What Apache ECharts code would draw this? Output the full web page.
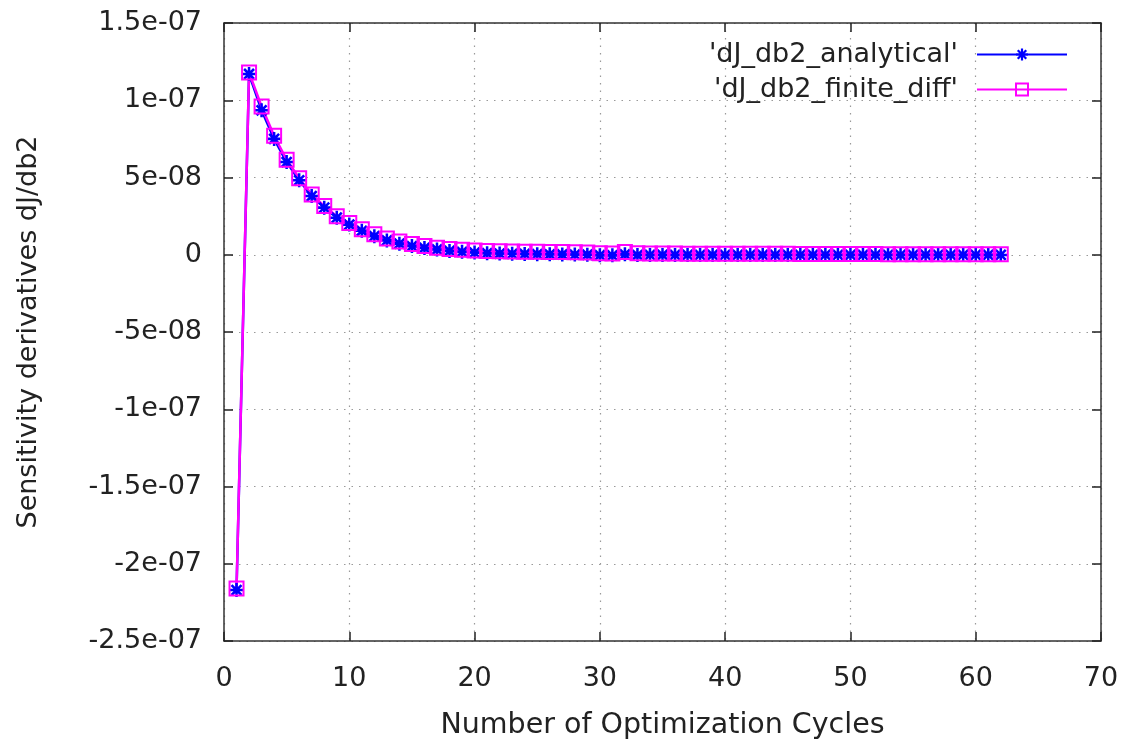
<!DOCTYPE html>
<html>
<head>
<meta charset="utf-8">
<title>dJ/db2 sensitivity</title>
<script src="https://cdn.jsdelivr.net/npm/echarts@6/dist/echarts.min.js"></script>
<style>
  html, body { margin: 0; padding: 0; background: #fff; }
  #chart { width: 1131px; height: 748px; }
</style>
</head>
<body>
<div id="chart"></div>
<script>
// Optimization cycle numbers
const cycles = [
  1, 2, 3, 4, 5, 6, 7, 8, 9, 10,
  11, 12, 13, 14, 15, 16, 17, 18, 19, 20,
  21, 22, 23, 24, 25, 26, 27, 28, 29, 30,
  31, 32, 33, 34, 35, 36, 37, 38, 39, 40,
  41, 42, 43, 44, 45, 46, 47, 48, 49, 50,
  51, 52, 53, 54, 55, 56, 57, 58, 59, 60,
  61, 62
];

// Adjoint (analytical) sensitivity dJ/db2
const analytical = [
  -2.17e-7, 1.17e-7, 9.35e-8, 7.5e-8, 6.0e-8, 4.82e-8, 3.8e-8, 3.05e-8, 2.4e-8, 1.95e-8,
  1.55e-8, 1.2e-8, 9.3e-9, 7.2e-9, 5.6e-9, 4.4e-9, 3.4e-9, 2.5e-9, 1.9e-9, 1.4e-9,
  1.0e-9, 8e-10, 6e-10, 5e-10, 4e-10, 3e-10, 2e-10, 1e-10, 0, -3e-10,
  -4e-10, 3e-10, -2e-10, -1e-10, -1e-10, -1e-10, -1e-10, -1e-10, -1e-10, -1e-10,
  -1e-10, -1e-10, -1e-10, -1e-10, -1e-10, -1e-10, -1e-10, -1e-10, -1e-10, -1e-10,
  -1e-10, -1e-10, -1e-10, -1e-10, -1e-10, -1e-10, -1e-10, -1e-10, -1e-10, -1e-10,
  -1e-10, -1e-10
];

// Finite-difference sensitivity dJ/db2
const finiteDiff = [
  -2.16e-7, 1.18e-7, 9.6e-8, 7.7e-8, 6.15e-8, 4.95e-8, 3.9e-8, 3.15e-8, 2.5e-8, 2.05e-8,
  1.65e-8, 1.32e-8, 1.05e-8, 8.5e-9, 6.9e-9, 5.6e-9, 4.6e-9, 3.8e-9, 3.2e-9, 2.8e-9,
  2.5e-9, 2.3e-9, 2.1e-9, 2.0e-9, 1.9e-9, 1.8e-9, 1.7e-9, 1.6e-9, 1.5e-9, 1.0e-9,
  8e-10, 1.8e-9, 9e-10, 8e-10, 8e-10, 8e-10, 7e-10, 7e-10, 7e-10, 7e-10,
  6e-10, 6e-10, 6e-10, 6e-10, 6e-10, 5e-10, 5e-10, 5e-10, 5e-10, 5e-10,
  5e-10, 5e-10, 4e-10, 4e-10, 4e-10, 4e-10, 4e-10, 4e-10, 4e-10, 4e-10,
  4e-10, 4e-10
];

// Series names as shown in the key
const seriesNames = ["'dJ_db2_analytical'", "'dJ_db2_finite_diff'"];

// Axis ranges and tick steps
const xRange = [0, 70, 10];
const yRange = [-2.5e-7, 1.5e-7, 5e-8];

const FONT = 'DejaVu Sans';
const FS = 27;

// gnuplot-style exponent labels: 1.5e-07, 5e-08, 0
function expLabel(v) {
  if (Math.abs(v) < 1e-15) return '0';
  const e = Math.floor(Math.log10(Math.abs(v)) + 1e-9);
  let m = Math.round((v / Math.pow(10, e)) * 100) / 100;
  const sign = e < 0 ? '-' : '+';
  const ae = Math.abs(e);
  return m + 'e' + sign + (ae < 10 ? '0' + ae : ae);
}

// asterisk marker built from four thin bars
const STAR = 'path://' +
  'M-0.18,-1 L0.18,-1 L0.18,1 L-0.18,1 Z ' +
  'M-1,-0.18 L1,-0.18 L1,0.18 L-1,0.18 Z ' +
  'M-0.84,-0.58 L-0.58,-0.84 L0.84,0.58 L0.58,0.84 Z ' +
  'M-0.84,0.58 L0.58,-0.84 L0.84,-0.58 L-0.58,0.84 Z';

const frame = { show: true, lineStyle: { color: '#333', width: 1.5 } };
const innerTicks = { show: true, inside: true, length: 9, lineStyle: { color: '#222', width: 1.5 } };
const dotted = { show: true, lineStyle: { color: '#9a9a9a', width: 1.2, type: [1.5, 6] } };

const chart = echarts.init(document.getElementById('chart'), null, { renderer: 'canvas' });

chart.setOption({
  animation: false,
  backgroundColor: '#ffffff',
  textStyle: { fontFamily: FONT },
  grid: { left: 224, top: 23, right: 30, bottom: 107, containLabel: false },
  legend: {
    orient: 'vertical',
    right: 58,
    top: 36,
    align: 'right',
    itemWidth: 90,
    itemHeight: 15,
    itemGap: 8,
    textStyle: { fontFamily: FONT, fontSize: FS, color: '#222', lineHeight: 27, padding: [0, 14, 0, 0] },
    data: seriesNames
  },
  xAxis: [
    {
      type: 'value',
      min: xRange[0], max: xRange[1], interval: xRange[2],
      name: 'Number of Optimization Cycles',
      nameLocation: 'middle',
      nameGap: 70,
      nameTextStyle: { fontFamily: FONT, fontSize: 28.5, color: '#222' },
      axisLine: Object.assign({ onZero: false }, frame),
      axisTick: innerTicks,
      axisLabel: { fontFamily: FONT, fontSize: FS, color: '#222', margin: 24 },
      splitLine: dotted
    },
    {
      type: 'value', position: 'top',
      min: xRange[0], max: xRange[1], interval: xRange[2],
      axisLine: Object.assign({ onZero: false }, frame),
      axisTick: innerTicks,
      axisLabel: { show: false },
      splitLine: { show: false }
    }
  ],
  yAxis: [
    {
      type: 'value',
      min: yRange[0], max: yRange[1], interval: yRange[2],
      name: 'Sensitivity derivatives dJ/db2',
      nameLocation: 'middle',
      nameGap: 182,
      nameTextStyle: { fontFamily: FONT, fontSize: FS, color: '#222' },
      axisLine: Object.assign({ onZero: false }, frame),
      axisTick: innerTicks,
      axisLabel: { fontFamily: FONT, fontSize: FS, color: '#222', margin: 22, formatter: expLabel },
      splitLine: dotted
    },
    {
      type: 'value', position: 'right',
      min: yRange[0], max: yRange[1], interval: yRange[2],
      axisLine: Object.assign({ onZero: false }, frame),
      axisTick: innerTicks,
      axisLabel: { show: false },
      splitLine: { show: false }
    }
  ],
  series: [
    {
      name: seriesNames[0],
      type: 'line',
      xAxisIndex: 0, yAxisIndex: 0,
      data: cycles.map((c, i) => [c, analytical[i]]),
      symbol: STAR,
      symbolSize: 14,
      showAllSymbol: true,
      lineStyle: { color: '#0000ff', width: 2.5 },
      itemStyle: { color: '#0000ff' }
    },
    {
      name: seriesNames[1],
      type: 'line',
      xAxisIndex: 0, yAxisIndex: 0,
      data: cycles.map((c, i) => [c, finiteDiff[i]]),
      symbol: 'rect',
      symbolSize: 14,
      showAllSymbol: true,
      lineStyle: { color: '#ff00ff', width: 2.5 },
      itemStyle: { color: 'rgba(0,0,0,0)', borderColor: '#ff00ff', borderWidth: 2 }
    }
  ]
});
</script>
</body>
</html>
